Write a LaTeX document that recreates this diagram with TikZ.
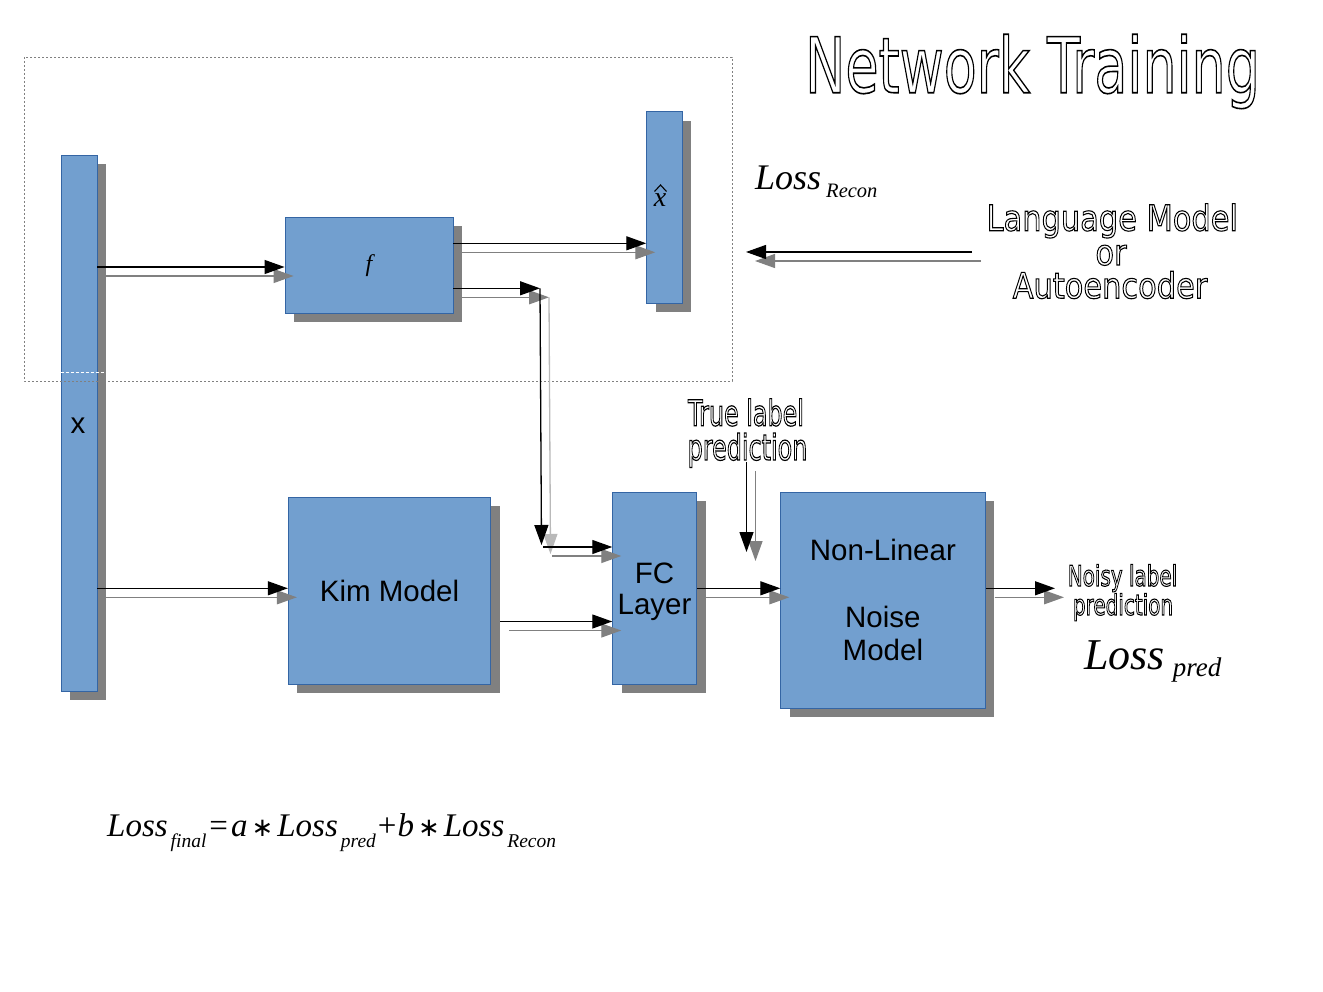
\documentclass[tikz,border=0pt]{standalone}
\usepackage{fontspec}
\usetikzlibrary{arrows.meta,shadows,calc}
\newfontfamily\arialf{Liberation Sans}
\newfontfamily\tnr{Liberation Serif}
\newfontfamily\djv{DejaVu Sans}
\definecolor{boxblue}{HTML}{729FCF}
\definecolor{boxedge}{HTML}{3465A4}
\definecolor{shadowgray}{HTML}{808080}
\newcommand\outl[3]{\scalebox{#1}[1]{\special{pdf:literal direct 1 Tr #2 w}#3\special{pdf:literal direct 0 Tr}}}
\newcommand\sharrow[2][shadowgray]{\draw[sarr,draw=#1,fill=#1,transform canvas={shift={(9pt,-9pt)}}] #2; \draw[arr] #2;}
\tikzset{
  box/.style={draw=boxedge, fill=boxblue, line width=0.9pt, inner sep=0pt,
    drop shadow={fill=shadowgray, opacity=1, shadow xshift=9pt, shadow yshift=-9pt},
    font=\arialf\fontsize{29.5}{33.3}\selectfont, align=center},
  arr/.style={-{Triangle[length=20pt,width=14pt]}, line width=1.3pt, black},
  sarr/.style={-{Triangle[length=20pt,width=14pt]}, line width=1.3pt, shadowgray},
  lbl/.style={inner sep=0pt, anchor=base},
}
\begin{document}
\begin{tikzpicture}[x=1pt,y=-1pt]
\fill[white] (0,0) rectangle (1323,992);
\useasboundingbox (0,0) rectangle (1323,992);

% boxes
\node[box, minimum width=36pt, minimum height=536pt] (xcol) at (79,423) {};
\node[box, minimum width=168pt, minimum height=96pt] (f) at (369,265) {};
\node[box, minimum width=35.6pt, minimum height=191.6pt] (xhat) at (664.5,207.5) {};
\node[box, minimum width=202.4pt, minimum height=186.7pt] (kim) at (389.5,590.7) {Kim Model};
\node[box, minimum width=84pt, minimum height=191.7pt] (fc) at (654.7,588.2) {};
\node[box, minimum width=204.3pt, minimum height=216pt] (nln) at (882.9,600.3) {Non-Linear\\[33.3pt]Noise\\Model};

% labels inside boxes
\node[inner sep=0pt, align=center, font=\arialf\fontsize{29.5}{31.4}\selectfont] (fclbl) at (654.5,591.5) {FC\\Layer};
\node[inner sep=0pt, font=\arialf\fontsize{29.5}{29.5}\selectfont] (xlbl) at (78,425.5) {x};
\node[inner sep=0pt, font=\tnr\itshape\fontsize{24}{24}\selectfont] (flbl) at (369,266) {f};
\node[inner sep=0pt, anchor=base, font=\tnr\itshape\fontsize{28}{28}\selectfont] (xhatlbl) at (660,207) {x};
\draw[black, line width=1.1pt, line join=miter] (654.5,191.5) -- (660.5,185) -- (666.5,191.5);

% dashed frame
\draw[shadowgray, line width=0.8pt, dash pattern=on 2pt off 2pt] (24,57) rectangle (732,381);
\coordinate (xcolsh) at ([xshift=9pt]xcol.east);
\draw[white, line width=0.9pt, dash pattern=on 3pt off 2pt] (xcol.west |- 0,372) -- (xcolsh |- 0,372);

% connectors
\coordinate (fin) at ([yshift=-2pt]f.west);
\sharrow{(xcol.east |- fin) -- (fin)}
\coordinate (kin) at ([yshift=2.4pt]kim.west);
\sharrow{(xcol.east |- kin) -- (kin)}
\sharrow{(f.east |- 0,243.3) -- (xhat.west |- 0,243.3)}
\coordinate (bend) at (540,288.3);
\sharrow{(f.east |- bend) -- (bend)}
\coordinate (bend2) at (541.5,545);
\sharrow[gray!55]{(bend) -- (bend2)}
\coordinate (bend3) at (543,547);
\sharrow{(bend3) -- (fc.west |- bend3)}
\coordinate (kout) at ([xshift=9pt]kim.east);
\sharrow{(kout |- 0,621.5) -- (fc.west |- 0,621.5)}
\sharrow{(fc.east |- 0,588.3) -- (nln.west |- 0,588.3)}
\coordinate (tltop) at (746.5,462);
\coordinate (tltip) at (746.5,552);
\sharrow{(tltop) -- (tltip)}
\coordinate (noisytip) at (1055,588.3);
\sharrow{(nln.east |- noisytip) -- (noisytip)}
\coordinate (lmstart) at (972,252);
\coordinate (lmtip) at (746,252);
\sharrow{(lmstart) -- (lmtip)}

% outlined texts
\node[lbl, font=\djv\fontsize{77}{77}\selectfont] (title) at (1032.5,92.7) {\outl{0.70}{1.6}{Network Training}};
\node[lbl, font=\djv\fontsize{35.6}{35.6}\selectfont] (lm1) at (1112.3,230.7) {\outl{0.855}{1.1}{Language Model}};
\node[lbl, font=\djv\fontsize{35.6}{35.6}\selectfont] (lm2) at (1111,265) {\outl{0.855}{1.1}{or}};
\node[lbl, font=\djv\fontsize{35.6}{35.6}\selectfont] (lm3) at (1110,298.3) {\outl{0.855}{1.1}{Autoencoder}};
\node[lbl, font=\djv\fontsize{35.6}{35.6}\selectfont] (tl1) at (746,425.7) {\outl{0.67}{1.2}{True label}};
\node[lbl, font=\djv\fontsize{35.6}{35.6}\selectfont] (tl2) at (747.5,460) {\outl{0.67}{1.2}{prediction}};
\node[lbl, font=\djv\fontsize{28.5}{28.5}\selectfont] (nl1) at (1122.5,586) {\outl{0.70}{1.1}{Noisy label}};
\node[lbl, font=\djv\fontsize{28.5}{28.5}\selectfont] (nl2) at (1123,615) {\outl{0.70}{1.1}{prediction}};

% losses
\node[inner sep=0pt, anchor=base west, font=\tnr\itshape\fontsize{36}{36}\selectfont] (lossrecon) at (755,189.3)
  {Loss\hspace{5pt}\raisebox{-8.5pt}{\fontsize{20.5}{20.5}\selectfont Recon}};
\node[inner sep=0pt, anchor=base west, font=\tnr\itshape\fontsize{44}{44}\selectfont] (losspred) at (1084,669)
  {Loss\hspace{8pt}\raisebox{-7pt}{\fontsize{27}{27}\selectfont pred}};
\node[inner sep=0pt, anchor=base west, font=\tnr\fontsize{33}{33}\selectfont] (lossfinal) at (107,836)
  {\textit{Loss}\hspace{3pt}\raisebox{-11pt}{\fontsize{19.5}{19.5}\selectfont\textit{final}}\hspace{3pt}=\hspace{3pt}\textit{a}\hspace{4pt}{\djv\fontsize{26}{26}\selectfont ∗}\hspace{4pt}\textit{Loss}\hspace{3pt}\raisebox{-11pt}{\fontsize{19.5}{19.5}\selectfont\textit{pred}}\hspace{2pt}+\hspace{1pt}\textit{b}\hspace{4pt}{\djv\fontsize{26}{26}\selectfont ∗}\hspace{4pt}\textit{Loss}\hspace{3pt}\raisebox{-11pt}{\fontsize{19.5}{19.5}\selectfont\textit{Recon}}};
\end{tikzpicture}
\end{document}
